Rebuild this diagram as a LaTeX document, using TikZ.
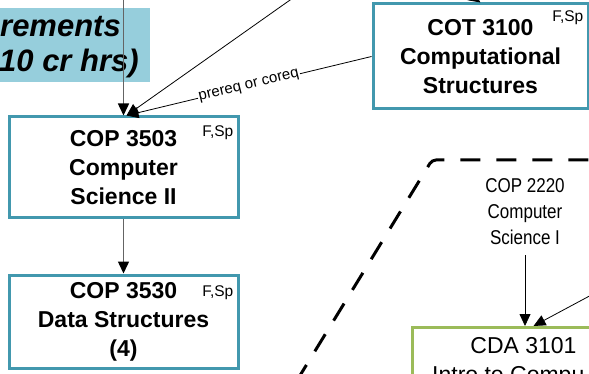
\documentclass[tikz,border=0pt]{standalone}
\usepackage{fontspec}
\setmainfont{Liberation Sans}
\newfontfamily\narrowfont[FakeStretch=0.85]{Liberation Sans}
\usetikzlibrary{shapes, arrows.meta, positioning}

\definecolor{boxteal}{RGB}{66,152,174}
\definecolor{boxfill}{RGB}{150,206,220}
\definecolor{boxgreen}{RGB}{155,187,89}
\definecolor{flowgray}{RGB}{100,100,100}

\begin{document}
\begin{tikzpicture}[x=1pt, y=-1pt, node distance=54pt,
    >={Triangle[length=12pt, width=11pt]},
    course/.style={draw=boxteal, line width=3pt, rectangle, align=center, minimum width=229pt, inner sep=0pt, font=\bfseries\fontsize{23}{29}\selectfont},
    term/.style={inner sep=0pt, font=\fontsize{15.5}{15.5}\selectfont},
    flow/.style={draw=flowgray, line width=1.5pt, -{Triangle[length=12pt, width=11pt, color=black]}},
    link/.style={->, line width=0.8pt}]

        \useasboundingbox (0,0) rectangle (589,374);
        \clip (0,0) rectangle (589,374);

        % Requirements banner
        \node (banner) [fill=boxfill, minimum width=250pt, minimum height=74pt, inner sep=0pt, anchor=north east] at (150,8) {};
        \node (bannertop) [anchor=base west, inner sep=0pt, font=\bfseries\itshape\fontsize{31}{31}\selectfont] at (0,37) {rements};
        \node (bannerbot) [anchor=base west, inner sep=0pt, font=\bfseries\itshape\fontsize{31}{31}\selectfont] at (-1,72) {10 cr hrs)};

        % Draw the blocks
        \node (cot3100) [course, minimum width=215pt, minimum height=105pt] at (480.5,56.5) {COT 3100\\Computational\\Structures};
        \node (cop3503) [course, minimum height=101pt] at (123.5,167.5) {COP 3503\\Computer\\Science II};
        \node (cop3530) [course, minimum height=93pt, below=of cop3503] {COP 3530\\Data Structures\\(4)};

        % Terms offered
        \node (cot3100term) [term, below left=7.5pt and 6pt of cot3100.north east] {F,Sp};
        \node (cop3503term) [term, below left=9.5pt and 6pt of cop3503.north east] {F,Sp};
        \node (cop3530term) [term, below left=12pt and 6pt of cop3530.north east] {F,Sp};

        % Lower right courses
        \node (cop2220) [align=center, inner xsep=2pt, inner ysep=10pt, font=\narrowfont\fontsize{20}{26}\selectfont] at (525,212) {COP 2220\\Computer\\Science I};
        \node (cda3101) [draw=boxgreen, line width=3pt, minimum width=227pt, minimum height=100pt, anchor=north west] at (410.5,326) {};
        \node (cdatitle) [anchor=base, inner sep=0pt, font=\fontsize{23}{23}\selectfont] at (523.5,353) {CDA 3101};
        \node (cdasub) [anchor=base west, inner sep=0pt, font=\fontsize{23}{23}\selectfont] at (432,382) {Intro to Compu};

        % Dashed region
        \draw [line width=3pt, dash pattern=on 20pt off 16pt, rounded corners=4pt] (296,382) -- (432,160) -- (600,160);

        % Draw the connecting lines
        \coordinate (fromtop) at (123.5,-5);
        \coordinate (fromupper) at (300,-7);
        \coordinate (cotabove) at (420,-40);
        \coordinate (fromright) at (610,285);

        \draw [flow] (fromtop) -- (cop3503);
        \draw [link] (fromupper) -- ([xshift=3pt]cop3503.north);
        \draw [link] (cot3100.west) -- node [sloped, fill=white, inner sep=1pt, font=\fontsize{15}{15}\selectfont] {prereq or coreq} ([xshift=3pt]cop3503.north);
        \draw [flow] (cop3503) -- (cop3530);
        \draw [link] (cotabove) -- (cot3100.north);
        \draw [link] (cop2220) -- (cop2220 |- cda3101.north);
        \draw [link] (fromright) -- ([xshift=8pt]cda3101.north);
    \end{tikzpicture}
\end{document}
